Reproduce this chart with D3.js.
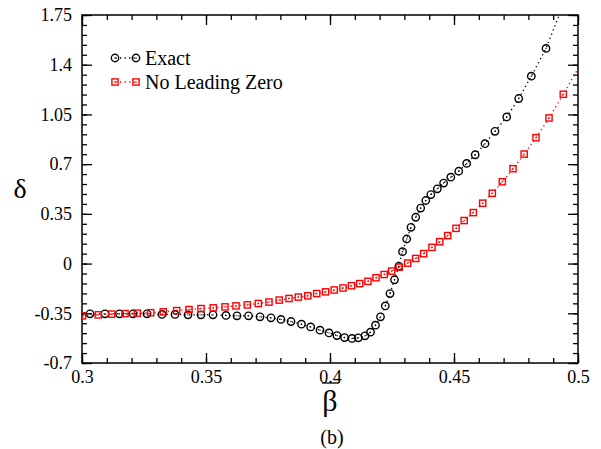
<!DOCTYPE html>
<html>
<head>
<meta charset="utf-8">
<script src="https://cdn.jsdelivr.net/npm/d3@7"></script>
<style>
  html, body { margin: 0; padding: 0; background: #fff; }
  svg { display: block; }
</style>
</head>
<body>
<svg id="chart" width="601" height="449" font-family="Liberation Serif, Times New Roman, Times, DejaVu Serif, serif"></svg>
<script>
// δ versus β̄ for the exact solution and the no-leading-zero approximation
const exactBeta = [0.30323,0.30927,0.31512,0.32056,0.32621,0.33226,0.3375,0.34274,0.34798,0.35282,
  0.35806,0.3625,0.36714,0.37177,0.37621,0.38024,0.38427,0.38851,0.39222,0.39597,
  0.3996,0.40282,0.40585,0.40887,0.41141,0.41411,0.41633,0.41835,0.42036,0.4223,
  0.42419,0.42601,0.42774,0.42923,0.43093,0.43266,0.43456,0.43657,0.43863,0.44065,
  0.44327,0.44581,0.44871,0.4519,0.45512,0.45855,0.4625,0.46653,0.47125,0.47609,
  0.48117,0.4871,0.49355];
const exactDelta = [-0.354,-0.354,-0.354,-0.354,-0.354,-0.358,-0.358,-0.361,-0.361,-0.361,
  -0.365,-0.368,-0.368,-0.375,-0.382,-0.393,-0.408,-0.427,-0.446,-0.469,
  -0.488,-0.507,-0.521,-0.527,-0.523,-0.509,-0.483,-0.434,-0.375,-0.298,
  -0.211,-0.114,-0.019,0.084,0.173,0.255,0.326,0.391,0.444,0.486,
  0.526,0.567,0.608,0.650,0.705,0.766,0.844,0.931,1.032,1.162,
  1.319,1.515,1.799];

const nlzBeta = [0.3002,0.30657,0.31198,0.31734,0.3223,0.3277,0.33278,0.33819,0.34315,0.34798,
  0.35294,0.35766,0.3621,0.36665,0.37109,0.3754,0.37952,0.38347,0.38722,0.39105,
  0.39464,0.39819,0.40169,0.40524,0.40867,0.41198,0.41532,0.41855,0.42185,0.42488,
  0.4279,0.43133,0.43456,0.43778,0.44113,0.44423,0.44746,0.45081,0.45411,0.45778,
  0.46157,0.46544,0.46948,0.47379,0.4783,0.48306,0.48831,0.49407,0.50242];
const nlzDelta = [-0.368,-0.361,-0.356,-0.352,-0.349,-0.346,-0.340,-0.331,-0.324,-0.317,
  -0.312,-0.305,-0.298,-0.291,-0.281,-0.271,-0.257,-0.246,-0.236,-0.227,
  -0.211,-0.199,-0.186,-0.172,-0.156,-0.141,-0.125,-0.100,-0.077,-0.053,
  -0.025,0.003,0.036,0.070,0.114,0.154,0.197,0.248,0.303,0.359,
  0.425,0.495,0.576,0.668,0.771,0.886,1.025,1.192,1.446];

const xTicks = [0.3, 0.35, 0.4, 0.45, 0.5];
const xTickLabels = ["0.3", "0.35", "0.4", "0.45", "0.5"];
const yTicks = [-0.7, -0.35, 0, 0.35, 0.7, 1.05, 1.4, 1.75];
const yTickLabels = ["-0.7", "-0.35", "0", "0.35", "0.7", "1.05", "1.4", "1.75"];
const seriesNames = ["Exact", "No Leading Zero"];
const seriesColors = ["#000000", "#ff0000"];

const FONT = "Liberation Serif, Times New Roman, Times, DejaVu Serif, serif";
const margin = { left: 82, right: 23, top: 15, bottom: 86 };
const W = 601, H = 449;
const iw = W - margin.left - margin.right;
const ih = H - margin.top - margin.bottom;

const svg = d3.select("#chart");
const g = svg.append("g").attr("transform", `translate(${margin.left},${margin.top})`);

const x = d3.scaleLinear().domain([0.3, 0.5]).range([0, iw]);
const y = d3.scaleLinear().domain([-0.7, 1.75]).range([ih, 0]);

const xMinor = d3.range(0, 21).map(i => +(0.3 + i * 0.01).toFixed(3));
const yMinor = d3.range(0, 36).map(i => +(-0.7 + i * 0.07).toFixed(3));

g.append("defs").append("clipPath").attr("id", "plotClip")
  .append("rect").attr("width", iw).attr("height", ih);

function styleAxis(sel) {
  sel.attr("font-family", FONT).attr("font-size", 18);
  sel.select(".domain").remove();
  sel.selectAll(".tick line").attr("stroke", "#000").attr("stroke-width", 1.3);
  sel.selectAll("text").attr("fill", "#000");
}

// minor ticks on all four sides, pointing inward
g.append("g").attr("transform", `translate(0,${ih})`)
  .call(d3.axisBottom(x).tickValues(xMinor).tickSize(-5).tickFormat("")).call(styleAxis);
g.append("g")
  .call(d3.axisTop(x).tickValues(xMinor).tickSize(-5).tickFormat("")).call(styleAxis);
g.append("g")
  .call(d3.axisLeft(y).tickValues(yMinor).tickSize(-5).tickFormat("")).call(styleAxis);
g.append("g").attr("transform", `translate(${iw},0)`)
  .call(d3.axisRight(y).tickValues(yMinor).tickSize(-5).tickFormat("")).call(styleAxis);

// major ticks with labels on bottom and left
g.append("g").attr("transform", `translate(0,${ih})`)
  .call(d3.axisBottom(x).tickValues(xTicks).tickSize(-10).tickPadding(7)
    .tickFormat((d, i) => xTickLabels[i])).call(styleAxis);
g.append("g")
  .call(d3.axisTop(x).tickValues(xTicks).tickSize(-10).tickFormat("")).call(styleAxis);
g.append("g")
  .call(d3.axisLeft(y).tickValues(yTicks).tickSize(-10).tickPadding(10)
    .tickFormat((d, i) => yTickLabels[i])).call(styleAxis);
g.append("g").attr("transform", `translate(${iw},0)`)
  .call(d3.axisRight(y).tickValues(yTicks).tickSize(-10).tickFormat("")).call(styleAxis);

// frame
g.append("rect").attr("width", iw).attr("height", ih)
  .attr("fill", "none").attr("stroke", "#000").attr("stroke-width", 1.5);

const plot = g.append("g").attr("clip-path", "url(#plotClip)");
const line = d3.line().x(d => x(d[0])).y(d => y(d[1]));

const exact = exactBeta.map((b, i) => [b, exactDelta[i]]);
const nlz = nlzBeta.map((b, i) => [b, nlzDelta[i]]);

function drawLine(data, color) {
  plot.append("path").datum(data).attr("d", line)
    .attr("fill", "none").attr("stroke", color).attr("stroke-width", 1.3)
    .attr("stroke-dasharray", "1.3,3.2");
}
drawLine(exact, seriesColors[0]);
drawLine(nlz, seriesColors[1]);

function drawCircles(sel, data, color) {
  sel.selectAll(null).data(data).enter().append("circle")
    .attr("cx", d => x(d[0])).attr("cy", d => y(d[1])).attr("r", 3.7)
    .attr("fill", "none").attr("stroke", color).attr("stroke-width", 1.4);
  sel.selectAll(null).data(data).enter().append("circle")
    .attr("cx", d => x(d[0])).attr("cy", d => y(d[1])).attr("r", 0.7)
    .attr("fill", color);
}
function drawSquares(sel, data, color) {
  const s = 6.2;
  sel.selectAll(null).data(data).enter().append("rect")
    .attr("x", d => x(d[0]) - s / 2).attr("y", d => y(d[1]) - s / 2)
    .attr("width", s).attr("height", s)
    .attr("fill", "none").attr("stroke", color).attr("stroke-width", 1.4);
  sel.selectAll(null).data(data).enter().append("rect")
    .attr("x", d => x(d[0]) - 0.7).attr("y", d => y(d[1]) - 0.7)
    .attr("width", 1.4).attr("height", 1.4).attr("fill", color);
}
drawCircles(plot, exact, seriesColors[0]);
drawSquares(plot, nlz, seriesColors[1]);

// legend
const legend = svg.append("g").attr("font-family", FONT);
const legendRows = [
  { name: seriesNames[0], color: seriesColors[0], y: 58, kind: "circle" },
  { name: seriesNames[1], color: seriesColors[1], y: 82, kind: "square" }
];
legendRows.forEach(r => {
  legend.append("line").attr("x1", 115).attr("x2", 136).attr("y1", r.y).attr("y2", r.y)
    .attr("stroke", r.color).attr("stroke-width", 1.3).attr("stroke-dasharray", "1.3,3.2")
    .attr("stroke-dashoffset", -5);
  [115, 136].forEach(cx => {
    if (r.kind === "circle") {
      legend.append("circle").attr("cx", cx).attr("cy", r.y).attr("r", 3.7)
        .attr("fill", "none").attr("stroke", r.color).attr("stroke-width", 1.4);
      legend.append("circle").attr("cx", cx).attr("cy", r.y).attr("r", 0.7).attr("fill", r.color);
    } else {
      legend.append("rect").attr("x", cx - 3.1).attr("y", r.y - 3.1).attr("width", 6.2).attr("height", 6.2)
        .attr("fill", "none").attr("stroke", r.color).attr("stroke-width", 1.4);
      legend.append("rect").attr("x", cx - 0.7).attr("y", r.y - 0.7).attr("width", 1.4).attr("height", 1.4)
        .attr("fill", r.color);
    }
  });
  legend.append("text").attr("x", 145).attr("y", r.y + 7)
    .attr("font-size", 20).attr("fill", "#000").text(r.name);
});

// axis titles
const titles = svg.append("g").attr("font-family", FONT).attr("fill", "#000");
const cx = margin.left + iw / 2;
titles.append("text").attr("x", cx).attr("y", 411).attr("text-anchor", "middle")
  .attr("font-size", 30).text("β");
titles.append("line").attr("x1", cx - 8).attr("x2", cx + 9).attr("y1", 383).attr("y2", 383)
  .attr("stroke", "#000").attr("stroke-width", 1.3);
titles.append("text").attr("x", 20).attr("y", 198).attr("text-anchor", "middle")
  .attr("font-size", 28).text("δ");
titles.append("text").attr("x", cx + 2).attr("y", 444).attr("text-anchor", "middle")
  .attr("font-size", 20).text("(b)");
</script>
</body>
</html>
